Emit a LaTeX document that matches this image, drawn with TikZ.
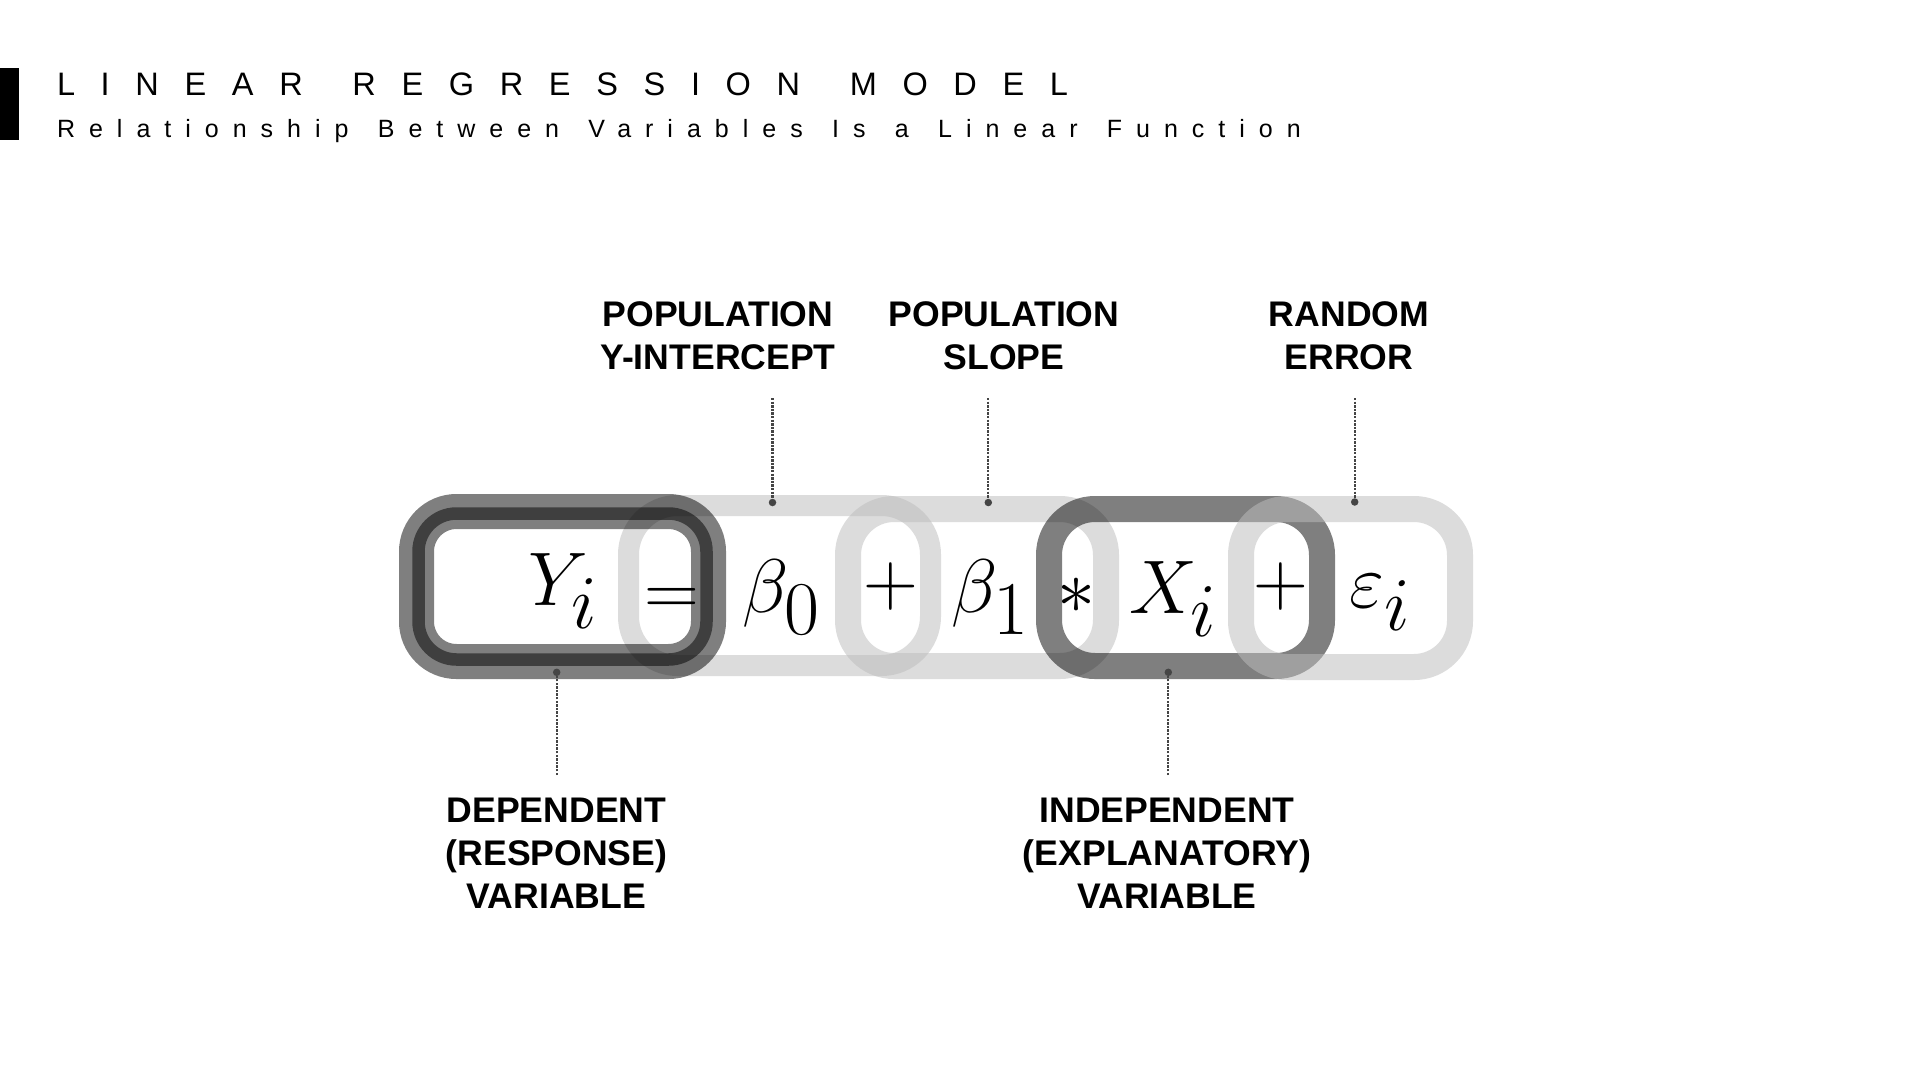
\RequirePackage{fix-cm}
\documentclass[tikz,border=0pt]{standalone}
\usepackage[no-math]{fontspec}
\setmainfont{Liberation Sans}
\newfontfamily\titlefont[LetterSpace=79,WordSpace=1.43]{Liberation Sans}
\newfontfamily\subtitlefont[LetterSpace=56,WordSpace=1.4]{Liberation Sans}
\definecolor{linkgray}{gray}{0.74}
\definecolor{dotgray}{HTML}{454545}
\newcommand{\bigsub}[1]{_{\textstyle #1}}
\begin{document}
\begin{tikzpicture}[x=1pt,y=-1pt,
  every node/.style={inner sep=0pt, outer sep=0pt},
  lightlink/.style={draw=linkgray, draw opacity=0.53, line width=#1, rounded corners=46},
  darkband/.style={draw=black, draw opacity=0.5, line width=#1},
  eqsym/.style={anchor=base, font=\fontsize{76}{80}\selectfont},
  lbl/.style={anchor=north, align=center, font=\fontsize{35.6}{43}\selectfont\bfseries},
  leader/.style={draw=dotgray, line width=2.2pt, dash pattern=on 2.4pt off 1.2pt},
  tipdot/.style={fill=dotgray, circle, minimum size=7.5pt},
]
\useasboundingbox (0,0) rectangle (1920,1080);
\fill[white] (0,0) rectangle (1920,1080);

% title
\fill[black] (0,68) rectangle (19,140);
\node[anchor=base west, font=\fontsize{32.5}{38}\titlefont] (title) at (57,95) {LINEAR REGRESSION MODEL};
\node[anchor=base west, font=\fontsize{25}{30}\subtitlefont] (subtitle) at (57,137) {Relationship Between Variables Is a Linear Function};

% chain links (light ones first)
\draw[lightlink=21, rounded corners=49] (628.5,505.5) rectangle (930.5,665.5);
\draw[lightlink=26] (848,509) rectangle (1106,666);
% dependent link
\draw[darkband=35, rounded corners=40] (416.5,511.5) rectangle (708.5,661.5);
\draw[darkband=12.5, rounded corners=38] (418.5,513.5) rectangle (706.5,659.5);
% independent link
\draw[darkband=26, rounded corners=46] (1049,509) rectangle (1322,666);
% error link
\draw[lightlink=26] (1241,509) rectangle (1460,667);

% equation
\node[eqsym] (yi) at (563,605) {$Y\bigsub{i}$};
\node[eqsym] (eq) at (672,615) {$=$};
\node[eqsym] (b0) at (781,612) {$\beta\bigsub{0}$};
\node[eqsym] (p1) at (891,605) {$+$};
\node[eqsym] (b1) at (990,612) {$\beta\bigsub{1}$};
\node[eqsym] (ast) at (1076,613) {$*$};
\node[eqsym] (xi) at (1173,613) {$X\bigsub{i}$};
\node[eqsym] (p2) at (1281,605) {$+$};
\node[eqsym] (ei) at (1380,607) {$\varepsilon\bigsub{i}$};

% labels
\node[lbl] (lint) at (718,302) {POPULATION\\Y-INTERCEPT};
\node[lbl] (lslope) at (1004,302) {POPULATION\\SLOPE};
\node[lbl] (lerr) at (1349,302) {RANDOM\\ERROR};
\node[lbl] (ldep) at (556.5,798) {DEPENDENT\\(RESPONSE)\\VARIABLE};
\node[lbl] (lind) at (1167,798) {INDEPENDENT\\(EXPLANATORY)\\VARIABLE};

% leader lines
\coordinate (c1) at (772.5,398);
\coordinate (c2) at (988.3,398);
\coordinate (c3) at (1354.7,398);
\coordinate (c4) at (556.7,775);
\coordinate (c5) at (1168.3,775);
\node[tipdot] (d1) at (772.5,502.5) {};
\node[tipdot] (d2) at (988.3,502.5) {};
\node[tipdot] (d3) at (1354.7,502) {};
\node[tipdot] (d4) at (556.7,672.3) {};
\node[tipdot] (d5) at (1168.3,672.3) {};
\draw[leader] (c1) -- (d1);
\draw[leader] (c2) -- (d2);
\draw[leader] (c3) -- (d3);
\draw[leader] (c4) -- (d4);
\draw[leader] (c5) -- (d5);
\end{tikzpicture}
\end{document}
